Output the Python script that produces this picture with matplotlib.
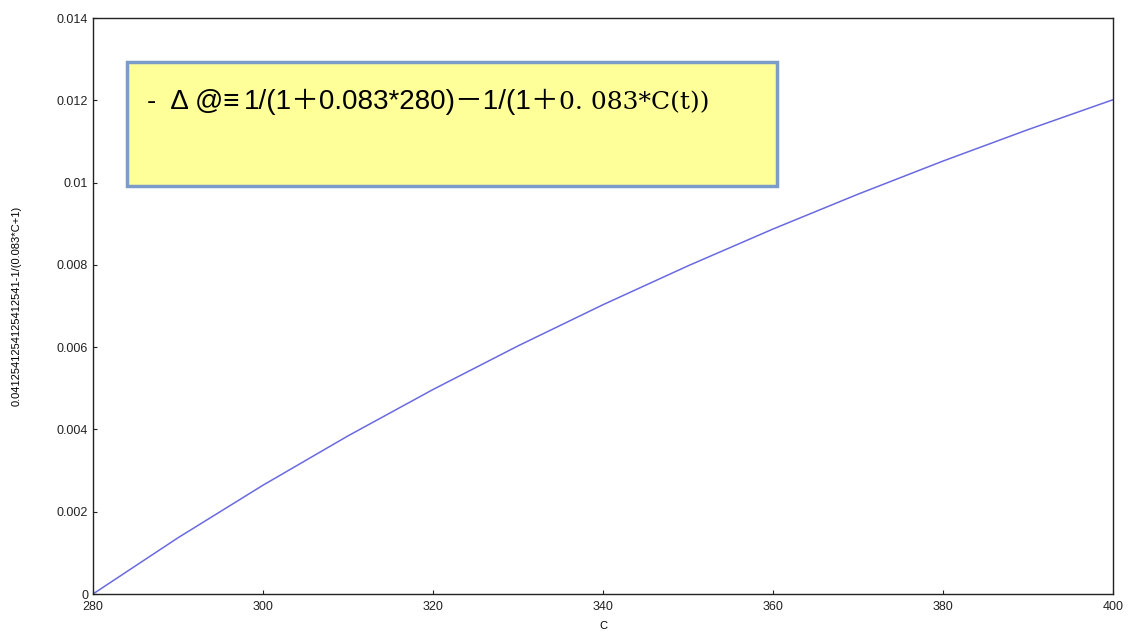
import matplotlib
matplotlib.use('Agg')
import matplotlib.pyplot as plt

# 数据
c_values = [280, 290, 300, 310, 320, 330, 340, 350, 360, 370, 380, 390, 400]
y_values = [0.0, 0.001366, 0.002644, 0.003843, 0.004970, 0.006030, 0.007031,
            0.007976, 0.008871, 0.009718, 0.010523, 0.011287, 0.012014]
x_ticks = [280, 300, 320, 340, 360, 380, 400]
y_ticks = [0, 0.002, 0.004, 0.006, 0.008, 0.01, 0.012, 0.014]
y_tick_labels = ['0', '0.002', '0.004', '0.006', '0.008', '0.01', '0.012', '0.014']

plt.rcParams['font.family'] = ['Liberation Sans', 'Noto Sans CJK JP', 'DejaVu Sans']

fig = plt.figure(figsize=(11.28, 6.32), dpi=100)
ax = fig.add_axes([0.0824, 0.0601, 0.9043, 0.9114])

ax.plot(c_values, y_values, color='#6a6ae0', linewidth=1.1)

ax.set_xlim(280, 400)
ax.set_ylim(0, 0.014)
ax.set_xticks(x_ticks)
ax.set_yticks(y_ticks)
ax.set_yticklabels(y_tick_labels)
ax.tick_params(direction='in', length=3, labelsize=9, colors='#222222')
ax.tick_params(axis='x', pad=5)
for s in ax.spines.values():
    s.set_linewidth(1.0)
    s.set_color('#222222')

ax.set_xlabel('C', fontsize=8, labelpad=6)
ax.set_ylabel('0.0412541254125412541-1/(0.083*C+1)', fontsize=8, labelpad=25)

# 公式文本框
box = plt.Rectangle((0.0333, 0.708), 0.6373, 0.2156, transform=ax.transAxes,
                    facecolor='#ffff99', edgecolor='#7b9cc8', linewidth=2.5, zorder=3)
ax.add_patch(box)
t0 = ax.text(0.053, 0.855, '-  Δ @≡', transform=ax.transAxes,
             fontsize=20, va='center', ha='left', zorder=4,
             family=['Liberation Sans', 'DejaVu Sans'])
t1 = ax.annotate('1/(1＋0.083*280)－1/(1＋', xy=(1, 0), xycoords=t0,
                 xytext=(3, 0), textcoords='offset points',
                 va='bottom', ha='left', fontsize=20, zorder=4,
                 family=['Liberation Sans', 'Noto Sans CJK JP'])
ax.annotate('0. 083*C(t))', xy=(1, 0), xycoords=t1, va='bottom', ha='left',
            fontsize=18, zorder=4, family=['DejaVu Serif'])

fig.savefig('out.png', dpi=100)
